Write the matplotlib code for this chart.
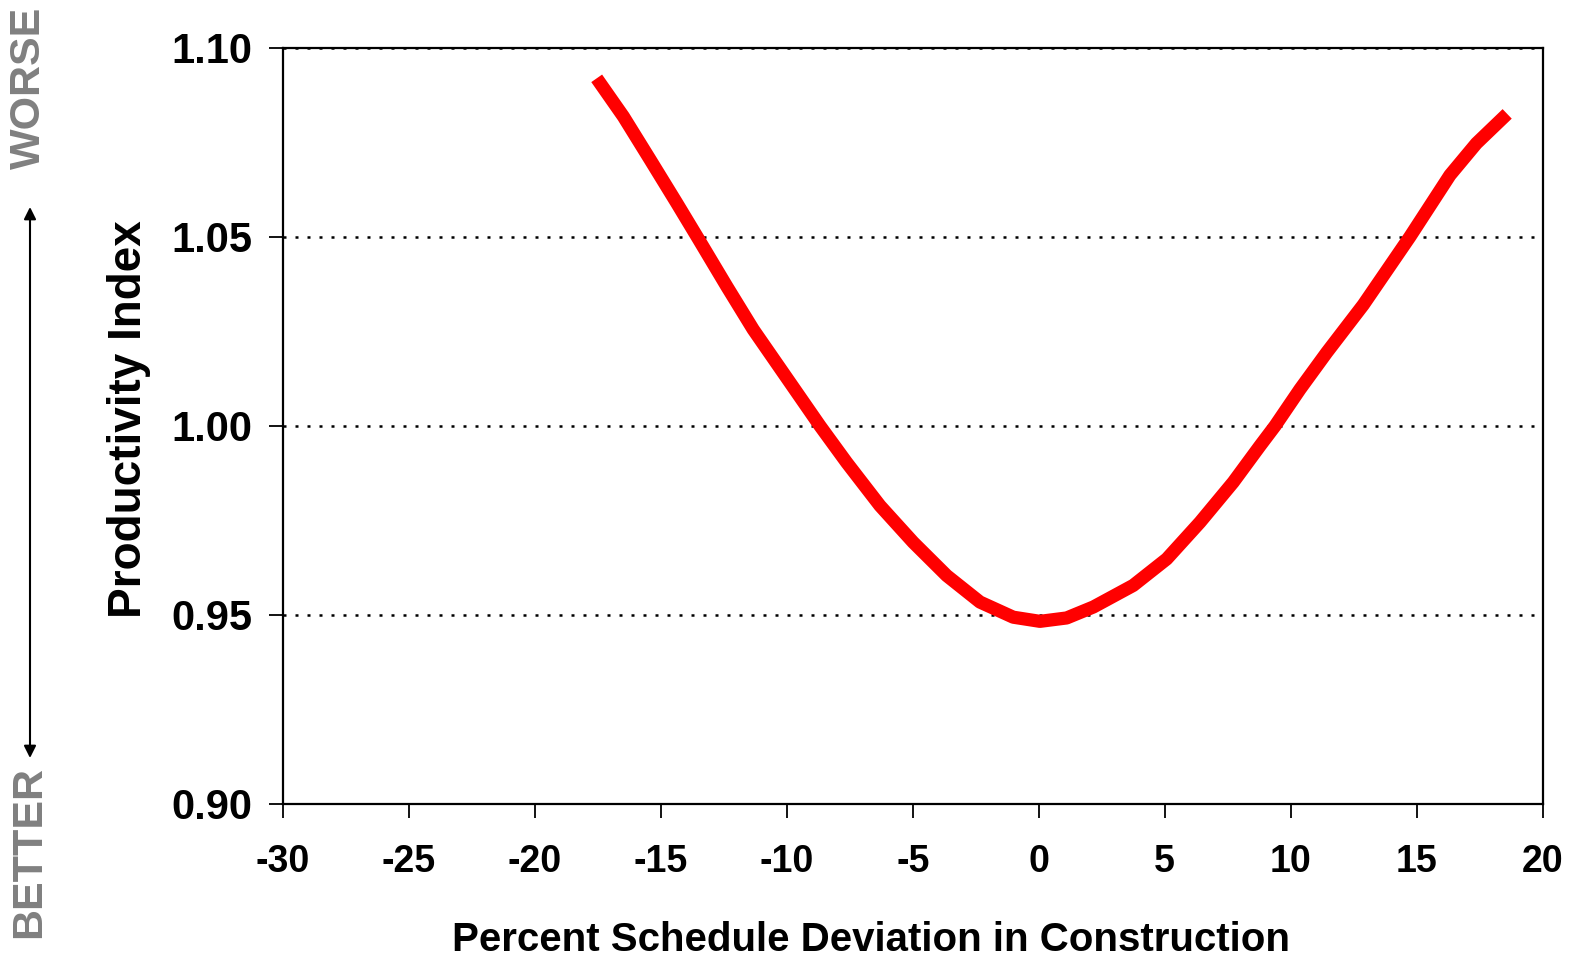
import matplotlib
matplotlib.use("Agg")
import matplotlib.pyplot as plt
from matplotlib.patches import FancyArrowPatch

# Data
deviation = [-17.54, -16.48, -15.42, -14.37, -13.51, -12.38, -11.33, -8.68,
             -7.62, -6.30, -4.98, -3.65, -2.33, -1.01, 0.05, 1.11, 2.17, 3.75, 5.08,
             6.40, 7.72, 8.78, 9.38, 10.37, 11.43, 12.88, 14.73, 16.32, 17.37, 18.59]
productivity = [1.0919, 1.0818, 1.0704, 1.0590, 1.0495, 1.0369, 1.0255, 1.0000,
                0.9903, 0.9789, 0.9692, 0.9604, 0.9534, 0.9494, 0.9483, 0.9492, 0.9521,
                0.9578, 0.9648, 0.9745, 0.9851, 0.9947, 1.0000, 1.0097, 1.0194, 1.0320,
                1.0500, 1.0663, 1.0747, 1.0825]
x_ticks = [-30, -25, -20, -15, -10, -5, 0, 5, 10, 15, 20]
y_ticks = [0.90, 0.95, 1.00, 1.05, 1.10]
y_ticklabels = ["0.90", "0.95", "1.00", "1.05", "1.10"]
grid_levels = [0.95, 1.00, 1.05, 1.10]

plt.rcParams['font.family'] = ['Liberation Sans', 'DejaVu Sans']
plt.rcParams['font.weight'] = 'bold'

W, H = 1569, 960
fig = plt.figure(figsize=(W / 100, H / 100), dpi=100)
ax = fig.add_axes([282.7 / W, 1 - 804 / H, (1542.7 - 282.7) / W, (804 - 47.7) / H])

for g in grid_levels:
    ax.axhline(g, color='black', linewidth=1.8, linestyle=(0, (1.2, 3.6)), zorder=1)

ax.plot(deviation, productivity, color='#ff0000', linewidth=9.5,
        solid_capstyle='butt', solid_joinstyle='round', zorder=3)

ax.set_xlim(-30, 20)
ax.set_ylim(0.90, 1.10)
ax.set_xticks(x_ticks)
ax.set_xticklabels([str(t) for t in x_ticks])
ax.set_yticks(y_ticks)
ax.set_yticklabels(y_ticklabels)

for s in ax.spines.values():
    s.set_linewidth(1.6)
    s.set_color('black')

ax.tick_params(axis='both', direction='out', length=10, width=1.3, colors='black')
ax.tick_params(axis='x', pad=19, labelsize=27)
ax.tick_params(axis='y', pad=12, labelsize=30)
for lab in ax.get_xticklabels() + ax.get_yticklabels():
    lab.set_fontweight('bold')

fig.text(129 / W, 1 - 419 / H, "Productivity Index", rotation=90, fontsize=33,
         fontweight='bold', ha='center', va='center')
fig.text(871 / W, 1 - 940 / H, "Percent Schedule Deviation in Construction",
         fontsize=29, fontweight='bold', ha='center', va='center')

# WORSE / BETTER annotations with double-headed arrow
fig.text(29 / W, 1 - 88 / H, "WORSE", rotation=90, color='#808080',
         fontsize=31, fontweight='bold', ha='center', va='center')
fig.text(29 / W, 1 - 852 / H, "BETTER", rotation=90, color='#808080',
         fontsize=31, fontweight='bold', ha='center', va='center')
fig.add_artist(FancyArrowPatch(
    (30 / W, 1 - 207 / H), (30 / W, 1 - 758 / H),
    transform=fig.transFigure, arrowstyle='<|-|>', mutation_scale=18,
    color='black', linewidth=1.5, shrinkA=0, shrinkB=0))

fig.savefig("out.png", dpi=100)
